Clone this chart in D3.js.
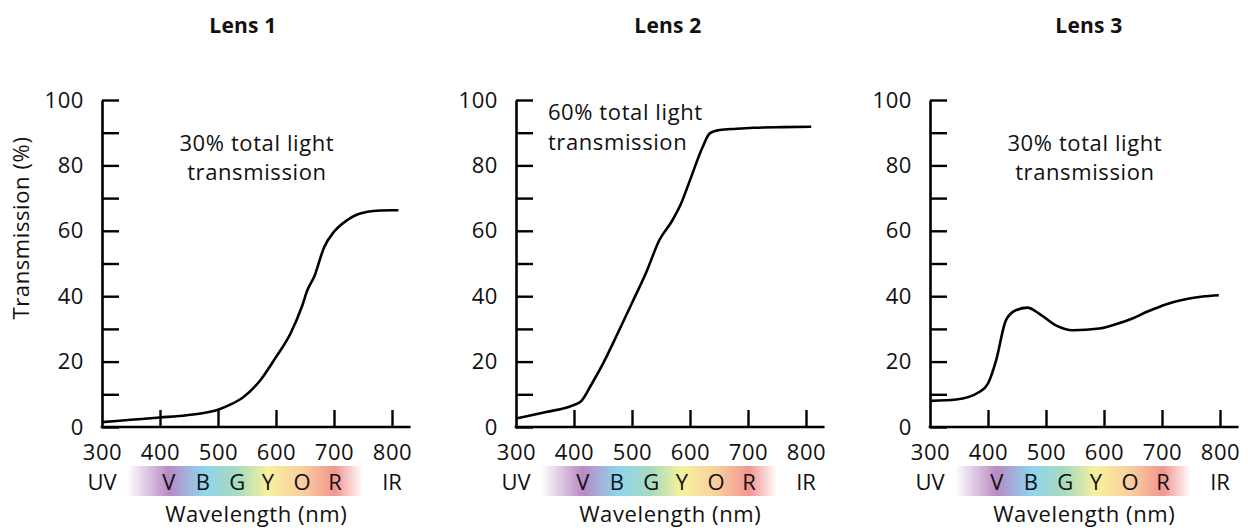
<!DOCTYPE html>
<html>
<head>
<meta charset="utf-8">
<script src="https://cdn.jsdelivr.net/npm/d3@7"></script>
<style>
  html, body { margin: 0; padding: 0; background: #fff; }
  svg { display: block; }
  text { font-family: "Open Sans", "DejaVu Sans", sans-serif; fill: #111; }
</style>
</head>
<body>
<svg id="chart" width="1248" height="530"></svg>
<script>
// ---------- data ----------
const lensTitles = ["Lens 1", "Lens 2", "Lens 3"];
const annotations = [["30% total light", "transmission"], ["60% total light", "transmission"], ["30% total light", "transmission"]];

const lens1Wavelength = [300, 350, 400, 446, 475, 500, 522, 544, 573, 600, 625, 645, 654, 666, 683, 700, 723, 740, 758, 780, 800, 811];
const lens1Transmission = [1.5, 2.2, 2.9, 3.6, 4.3, 5.3, 6.9, 9.2, 14.3, 21.4, 28.6, 37.0, 41.8, 46.0, 55.0, 59.7, 63.3, 65.0, 65.8, 66.2, 66.3, 66.3];

const lens2Wavelength = [300, 352, 398, 413, 430, 450, 475, 501, 525, 547, 570, 585, 600, 622, 634, 651, 680, 708, 760, 809];
const lens2Transmission = [2.6, 4.6, 6.6, 8.0, 13.0, 19.4, 28.5, 38.3, 47.5, 57.1, 63.3, 68.5, 75.5, 85.7, 89.8, 90.8, 91.2, 91.5, 91.7, 91.8];

const lens3Wavelength = [302, 345, 385, 400, 414, 431, 448, 468, 488, 517, 546, 592, 620, 649, 675, 695, 720, 747, 770, 798];
const lens3Transmission = [8.0, 8.4, 10.7, 13.3, 20.4, 32.7, 35.7, 36.5, 34.7, 31.1, 29.6, 30.1, 31.4, 33.2, 35.3, 36.7, 38.2, 39.3, 39.9, 40.3];

const yTickValues = [0, 10, 20, 30, 40, 50, 60, 70, 80, 90, 100];
const xTickValues = [300, 400, 500, 600, 700, 800];

const bandLetters = ["UV", "V", "B", "G", "Y", "O", "R", "IR"];
const bandLetterWavelength = [300, 415, 474, 533, 586, 645, 702, 800];

const spectrumStops = [343, 415, 474, 533, 586, 645, 702, 750];
const spectrumColors = ["#ffffff", "#b98ac4", "#8fd3ef", "#a7dbbf", "#f7f19c", "#f9cf9f", "#f29590", "#ffffff"];

const series = [
  { w: lens1Wavelength, t: lens1Transmission },
  { w: lens2Wavelength, t: lens2Transmission },
  { w: lens3Wavelength, t: lens3Transmission }
];

// ---------- layout ----------
const svg = d3.select("#chart");
const panelLeft = [102, 516, 930];
const titleAt = [543, 562, 574];   // title centre, in nm units of each panel
const plotWidth = 290;
const yTop = 100, yBottom = 427;
const fontSize = 22;
const ls = "0.6px";

const y = d3.scaleLinear().domain([0, 100]).range([yBottom, yTop]);

// gradient
const defs = svg.append("defs");
const grad = defs.append("linearGradient").attr("id", "spectrum").attr("x1", "0%").attr("x2", "100%");
spectrumStops.forEach((s, i) => {
  grad.append("stop")
    .attr("offset", ((s - spectrumStops[0]) / (spectrumStops[spectrumStops.length - 1] - spectrumStops[0]) * 100) + "%")
    .attr("stop-color", spectrumColors[i]);
});

series.forEach((d, i) => {
  const x0 = panelLeft[i];
  const x = d3.scaleLinear().domain([300, 800]).range([x0, x0 + plotWidth]);
  const g = svg.append("g");

  // title
  g.append("text")
    .attr("x", x(titleAt[i])).attr("y", 33)
    .attr("text-anchor", "middle")
    .style("font-weight", 700).style("font-size", "21px")
    .style("letter-spacing", "0.2px")
    .text(lensTitles[i]);

  // y axis
  const yAxis = d3.axisLeft(y)
    .tickValues(yTickValues)
    .tickSizeInner(-17).tickSizeOuter(0)
    .tickPadding(18)
    .tickFormat(v => v % 20 === 0 ? v : "");
  const ya = g.append("g").attr("transform", `translate(${x0},0)`).call(yAxis);
  ya.select(".domain").attr("stroke", "#000").attr("stroke-width", 2.6);
  ya.selectAll(".tick line").attr("stroke", "#000").attr("stroke-width", 2.4);
  ya.selectAll(".tick text").style("font-size", fontSize + "px").attr("fill", "#111")
    .style("font-family", '"Open Sans", sans-serif').style("letter-spacing", ls);

  // x axis
  const xAxis = d3.axisBottom(x)
    .tickValues(xTickValues)
    .tickSizeInner(-17).tickSizeOuter(0)
    .tickPadding(17);
  const xa = g.append("g").attr("transform", `translate(0,${yBottom})`).call(xAxis);
  xa.select(".domain").remove();
  xa.selectAll(".tick line").attr("stroke", "#000").attr("stroke-width", 2.4)
    .filter(v => v === 300).remove();
  xa.selectAll(".tick text").style("font-size", fontSize + "px").attr("fill", "#111")
    .style("font-family", '"Open Sans", sans-serif').style("letter-spacing", ls);
  g.append("line")
    .attr("x1", x(300) - 1.3).attr("x2", x(832))
    .attr("y1", yBottom).attr("y2", yBottom)
    .attr("stroke", "#000").attr("stroke-width", 2.6);

  // curve
  const line = d3.line()
    .x((w, k) => x(w))
    .y((w, k) => y(d.t[k]))
    .curve(d3.curveMonotoneX);
  g.append("path")
    .attr("d", line(d.w))
    .attr("fill", "none").attr("stroke", "#000").attr("stroke-width", 2.6)
    .attr("stroke-linejoin", "round");

  // annotation
  const ann = g.append("text").style("font-size", fontSize + "px").style("letter-spacing", ls);
  if (i === 1) {
    ann.attr("text-anchor", "start");
    ann.append("tspan").attr("x", x(355)).attr("y", 120).text(annotations[i][0]);
    ann.append("tspan").attr("x", x(355)).attr("y", 150).text(annotations[i][1]);
  } else {
    ann.attr("text-anchor", "middle");
    ann.append("tspan").attr("x", x(567)).attr("y", 151).text(annotations[i][0]);
    ann.append("tspan").attr("x", x(567)).attr("y", 180).text(annotations[i][1]);
  }

  // spectrum band
  g.append("rect")
    .attr("x", x(spectrumStops[0]))
    .attr("width", x(spectrumStops[spectrumStops.length - 1]) - x(spectrumStops[0]))
    .attr("y", 466).attr("height", 30)
    .attr("fill", "url(#spectrum)");
  bandLetters.forEach((L, k) => {
    g.append("text")
      .attr("x", x(bandLetterWavelength[k])).attr("y", 490)
      .attr("text-anchor", "middle")
      .style("font-size", fontSize + "px")
      .text(L);
  });

  // x label
  g.append("text")
    .attr("x", x(566)).attr("y", 522)
    .attr("text-anchor", "middle")
    .style("font-size", fontSize + "px").style("letter-spacing", ls)
    .text("Wavelength (nm)");
});

// y-axis title
svg.append("text")
  .attr("transform", "translate(29,228) rotate(-90)")
  .attr("text-anchor", "middle")
  .style("font-size", fontSize + "px").style("letter-spacing", ls)
  .text("Transmission (%)");
</script>
</body>
</html>
